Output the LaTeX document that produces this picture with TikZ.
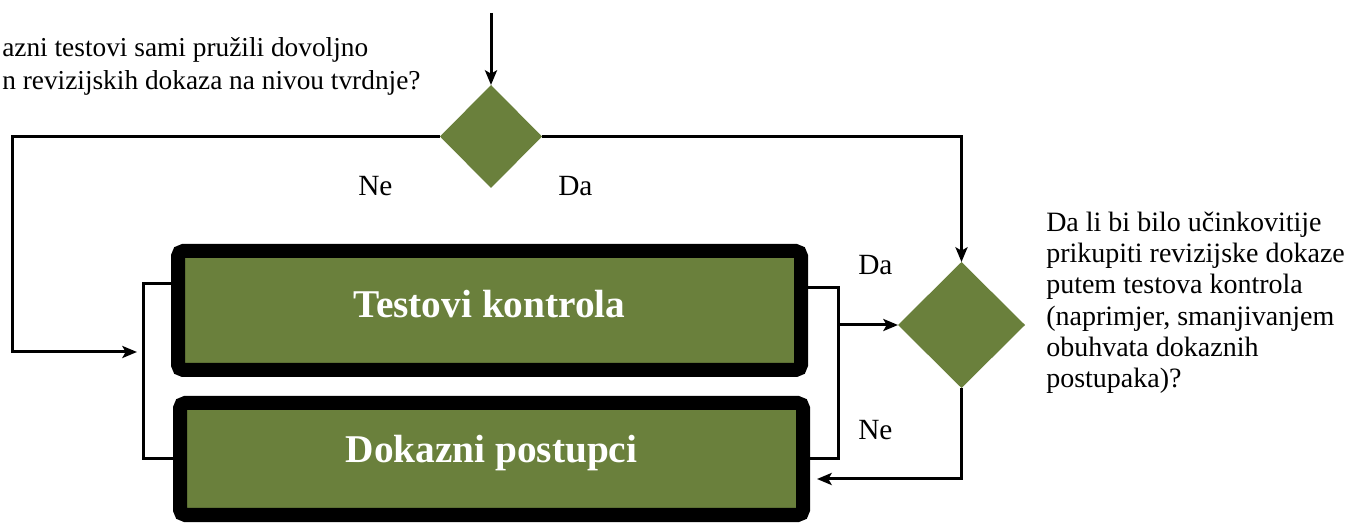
\documentclass[tikz,border=0pt]{standalone}
\usepackage{fontspec}
\setmainfont{Liberation Serif}
\usetikzlibrary{shapes.geometric,arrows.meta}
\definecolor{boxgreen}{RGB}{106,128,60}
\begin{document}
\begin{tikzpicture}[x=0.75pt,y=-0.75pt,
  conn/.style={line width=2.25pt},
  arr/.style={conn,-{Stealth[length=11pt,width=9pt,inset=2.5pt]}},
  dec/.style={diamond,fill=boxgreen,inner sep=0pt,outer sep=0pt},
  box/.style={rectangle,draw=black,fill=boxgreen,line width=10.5pt,rounded corners=4pt,inner sep=0pt,minimum width=467.25pt,text=white,font=\fontsize{29.5}{32}\selectfont\bfseries,text height=20.6pt},
  lab/.style={anchor=base west,inner sep=0pt,font=\fontsize{22}{26}\selectfont},
  q/.style={inner sep=0pt,font=\fontsize{20.5}{24}\selectfont}]
\useasboundingbox (0,0) rectangle (1349,523);
% decisions
\node[dec,minimum width=76.5pt,minimum height=77.25pt] (d1) at (491,136.5) {};
\node[dec,minimum width=95.25pt,minimum height=94.5pt] (d2) at (961.5,325) {};
% boxes
\node[box,minimum height=89.25pt,text depth=9.4pt] (b1) at (489.5,310.5) {Testovi kontrola};
\node[box,minimum height=84pt,text depth=14.6pt] (b2) at (491.5,459) {Dokazni postupci};
% labels
\node[lab] (ne1) at (358,196) {Ne};
\node[lab] (da1) at (558,196) {Da};
\node[lab] (da2) at (858,275) {Da};
\node[lab] (ne2) at (858,440) {Ne};
% questions
\node[q,anchor=base west] (q1a) at (2,57) {azni testovi sami pružili dovoljno};
\node[q,anchor=base west] (q1b) at (2,90) {n revizijskih dokaza na nivou tvrdnje?};
\node[q,anchor=base west,align=left,font=\fontsize{21}{23.5}\selectfont] (q2) at (1046,388) {Da li bi bilo učinkovitije\\prikupiti revizijske dokaze\\putem testova kontrola\\(naprimjer, smanjivanjem\\obuhvata dokaznih\\postupaka)?};
% connectors
\coordinate (top) at (491,13);
\draw[arr] (top) -- (d1.north);
\coordinate (lc) at (12,352);
\coordinate (lt) at (137,352);
\draw[arr] (d1.west) -| (lc) -- (lt);
\draw[arr] (d1.east) -| (d2.north);
\draw[conn] ([yshift=19.9pt]b1.west) -| ([xshift=-22.5pt]b2.west) -- (b2.west);
\draw[conn] ([yshift=17.6pt]b1.east) -| ([xshift=21pt]b2.east) -- (b2.east);
\coordinate (rb) at (838,325);
\draw[arr] (rb) -- (d2.west);
\coordinate (bt) at (817,479);
\draw[arr] (d2.south) |- (bt);
\end{tikzpicture}
\end{document}
